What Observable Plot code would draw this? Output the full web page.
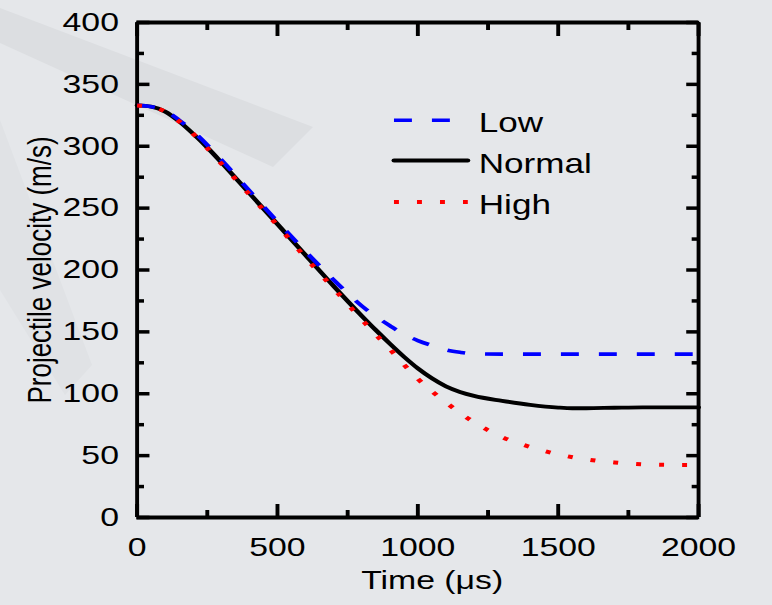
<!DOCTYPE html>
<html>
<head>
<meta charset="utf-8">
<script src="https://cdn.jsdelivr.net/npm/d3@7"></script>
<script src="https://cdn.jsdelivr.net/npm/@observablehq/plot@0.6"></script>
<style>
  html, body { margin: 0; padding: 0; background: #e5e7ea; width: 772px; height: 605px; overflow: hidden; }
  .wm1 { position: absolute; left: 0; top: 0; width: 772px; height: 605px; background: #dcdee1;
         clip-path: polygon(0px 8px, 313px 127px, 273px 167px, 0px 43px); }
  .wm2 { position: absolute; left: 0; top: 0; width: 772px; height: 605px; background: #e0e2e5;
         clip-path: polygon(0px 120px, 92px 365px, 65px 395px, 0px 290px); }
  #chart { position: absolute; left: 0; top: 0; transform-origin: 0 0; }
</style>
</head>
<body>
<div class="wm1"></div>
<div class="wm2"></div>
<div id="chart"></div>
<script>
// ---- data ----
const timeNormal = [0, 50, 100, 150, 200, 250, 300, 400, 500, 600, 700, 800, 850, 900, 950, 1000, 1050, 1100, 1150, 1200, 1300, 1400, 1500, 1550, 1600, 1700, 1800, 1900, 2000];
const velNormal  = [333, 332, 328, 320, 310, 299, 287, 262, 237, 212, 187, 163, 151.5, 140.5, 130, 120.5, 112.5, 106, 101.5, 98.3, 94.3, 91, 88.8, 88.3, 88.3, 88.7, 89, 89, 89];

const timeLow = [0, 50, 100, 150, 200, 300, 400, 500, 600, 700, 800, 900, 950, 1000, 1050, 1100, 1150, 1200, 1300, 1400, 1600, 1800, 2000];
const velLow  = [333, 332, 329, 321, 312, 289, 264, 239, 215, 192, 171, 155, 148, 143, 139, 135.5, 133.5, 132.3, 132, 132, 132, 132, 132];

const timeHigh = [0, 50, 100, 150, 200, 300, 400, 500, 600, 700, 800, 900, 1000, 1100, 1200, 1300, 1400, 1500, 1600, 1700, 1800, 1900, 2000];
const velHigh  = [333, 332, 328, 320, 310, 286, 261, 236, 210, 185, 160, 136, 112, 93, 77, 65, 57, 51, 47, 44.5, 43, 42.5, 42.5];

const seriesNames = ["Low", "Normal", "High"];
const legendY = [321, 288.5, 255];          // legend rows, in data units
const legendX = [915, 1178];                // legend sample span, in data units
const legendTextX = 1217;

const yMajor = [0, 50, 100, 150, 200, 250, 300, 350, 400];
const yMinor = [25, 75, 125, 175, 225, 275, 325, 375];
const xMajor = [0, 500, 1000, 1500, 2000];
const xMinor = [250, 750, 1250, 1750];

const xTitle = "Time (μs)";
const yTitle = "Projectile velocity (m/s)";

// ---- build ----
const rows = (ts, vs) => ts.map((t, i) => ({t, v: vs[i]}));
const normal = rows(timeNormal, velNormal);
const low = rows(timeLow, velLow);
const high = rows(timeHigh, velHigh);

const STRETCH = 772 / 594;   // the reference is horizontally stretched
const styles = {
  Low:    {stroke: "#0000ff", strokeWidth: 3.6, strokeDasharray: "13.8,15.4", strokeLinecap: "butt"},
  Normal: {stroke: "#000000", strokeWidth: 3.8},
  High:   {stroke: "#ff0000", strokeWidth: 4, strokeDasharray: "3.8,13.9", strokeLinecap: "butt"}
};

const FONT = 26;
const fmt = d3.format("d");
const legendMarks = seriesNames.flatMap((name, i) => [
  Plot.line([{t: legendX[0], v: legendY[i]}, {t: legendX[1], v: legendY[i]}], {x: "t", y: "v", ...styles[name]}),
  Plot.text([{t: legendTextX, v: legendY[i], label: name}], {x: "t", y: "v", text: "label", textAnchor: "start", lineAnchor: "middle", dy: 3.5, fontSize: 27, fill: "black"})
]);

const chart = Plot.plot({
  width: 594,
  height: 605,
  marginLeft: 105,
  marginRight: 57,
  marginTop: 22,
  marginBottom: 88,
  style: {background: "transparent", fontFamily: "'Liberation Sans', Arial, sans-serif", color: "black", overflow: "visible"},
  x: {domain: [0, 2000]},
  y: {domain: [0, 400]},
  marks: [
    // minor / major ticks, pointing inward on all four sides
    Plot.axisY({ticks: yMajor, tickSize: -10, tickPadding: 24, strokeWidth: 3.5, fontSize: FONT, tickFormat: fmt, label: null}),
    Plot.axisY({ticks: yMinor, tickSize: -5.8, tickFormat: () => "", strokeWidth: 3.5, label: null}),
    Plot.axisY({anchor: "right", ticks: yMajor, tickSize: -10, tickFormat: () => "", strokeWidth: 3.5, label: null}),
    Plot.axisY({anchor: "right", ticks: yMinor, tickSize: -5.8, tickFormat: () => "", strokeWidth: 3.5, label: null}),
    Plot.axisX({ticks: xMajor, tickSize: -13, tickPadding: 33, strokeWidth: 3, fontSize: FONT, tickFormat: fmt, label: null}),
    Plot.axisX({ticks: xMinor, tickSize: -7, tickFormat: () => "", strokeWidth: 3, label: null}),
    Plot.axisX({anchor: "top", ticks: xMajor, tickSize: -13, tickFormat: () => "", strokeWidth: 3, label: null}),
    Plot.axisX({anchor: "top", ticks: xMinor, tickSize: -7, tickFormat: () => "", strokeWidth: 3, label: null}),
    // frame
    Plot.ruleX([0, 2000], {stroke: "black", strokeWidth: 3}),
    Plot.ruleY([0, 400], {stroke: "black", strokeWidth: 4}),
    // data
    Plot.line(normal, {x: "t", y: "v", curve: "monotone-x", ...styles.Normal}),
    Plot.line(low, {x: "t", y: "v", curve: "monotone-x", ...styles.Low}),
    Plot.line(high, {x: "t", y: "v", curve: "monotone-x", ...styles.High}),
    // legend
    ...legendMarks,
    // axis titles
    Plot.text([yTitle], {frameAnchor: "left", dx: -66.5, rotate: -90, textAnchor: "middle", lineAnchor: "bottom", fontSize: FONT, fill: "black"}),
    Plot.text([xTitle], {frameAnchor: "bottom", dx: 11, dy: 71, textAnchor: "middle", lineAnchor: "bottom", fontSize: FONT, fill: "black"})
  ]
});

const holder = document.getElementById("chart");
holder.style.transform = `scaleX(${STRETCH})`;
holder.appendChild(chart);
</script>
</body>
</html>
